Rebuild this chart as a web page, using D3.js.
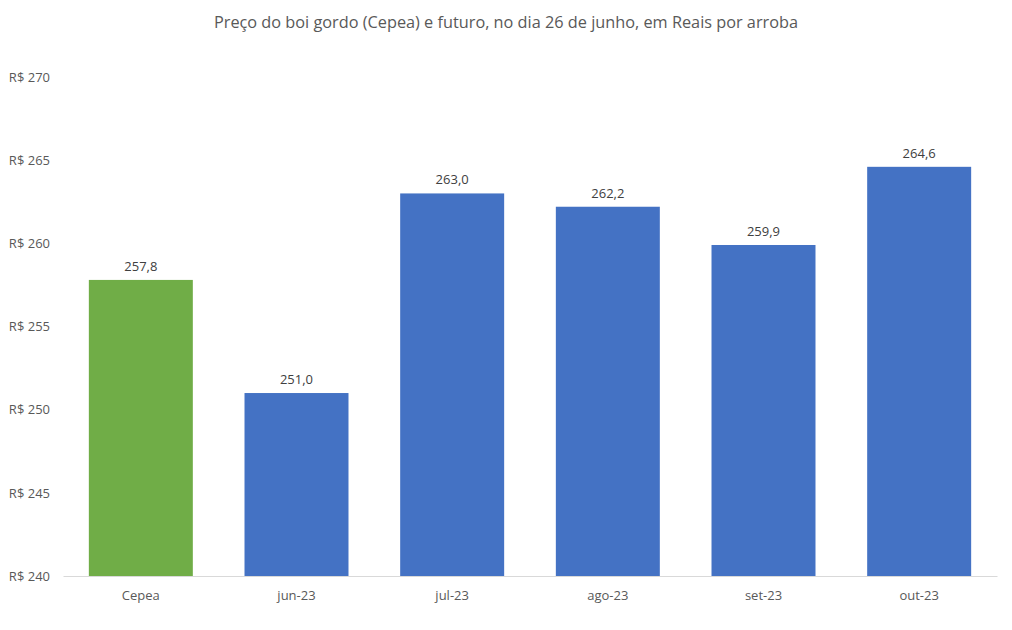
<!DOCTYPE html>
<html><head><meta charset="utf-8">
<script src="https://cdn.jsdelivr.net/npm/d3@7"></script>
<style>body{margin:0;background:#fff}svg{display:block}text{font-family:"Open Sans","Noto Sans",sans-serif}</style>
</head><body>
<svg id="c" width="1012" height="630"></svg>
<script>
const categories = ["Cepea","jun-23","jul-23","ago-23","set-23","out-23"];
const values = [257.8, 251.0, 263.0, 262.2, 259.9, 264.6];
const colors = ["#70AD47","#4472C4","#4472C4","#4472C4","#4472C4","#4472C4"];
const yTicks = [240,245,250,255,260,265,270];
const title = "Preço do boi gordo (Cepea) e futuro, no dia 26 de junho, em Reais por arroba";

const svg = d3.select("#c");
const x = d3.scaleBand().domain(categories).range([63,997]).paddingInner(0.332).paddingOuter(0.166);
const y = d3.scaleLinear().domain([240,270]).range([576,77]);
const fmt = v => v.toFixed(1).replace(".", ",");

svg.append("text").attr("x",506).attr("y",28).attr("text-anchor","middle")
  .attr("font-size",16.3).attr("fill","#595959").text(title);

const yAxis = svg.append("g").attr("transform","translate(50,0)")
  .call(d3.axisLeft(y).tickValues(yTicks).tickSize(0).tickPadding(0).tickFormat(d=>"R$ "+d));
yAxis.select(".domain").remove();
yAxis.selectAll("text").attr("font-size",13).attr("fill","#595959").attr("font-family",null)
  .attr("x",0).attr("text-anchor","end");

svg.selectAll("rect.bar").data(categories).join("rect").attr("class","bar")
  .attr("x",d=>x(d)).attr("width",x.bandwidth())
  .attr("y",(d,i)=>y(values[i])).attr("height",(d,i)=>y(240)-y(values[i]))
  .attr("fill",(d,i)=>colors[i]);

const xAxis = svg.append("g").attr("transform","translate(0,576)")
  .call(d3.axisBottom(x).tickSize(0).tickPadding(15));
xAxis.select(".domain").attr("stroke","#d9d9d9").attr("stroke-width",1);
xAxis.selectAll("text").attr("font-size",13).attr("fill","#595959").attr("font-family",null);

svg.selectAll("text.val").data(categories).join("text").attr("class","val")
  .attr("x",d=>x(d)+x.bandwidth()/2).attr("y",(d,i)=>y(values[i])-9)
  .attr("text-anchor","middle").attr("font-size",13).attr("fill","#404040")
  .text((d,i)=>fmt(values[i]));
</script>
</body></html>
